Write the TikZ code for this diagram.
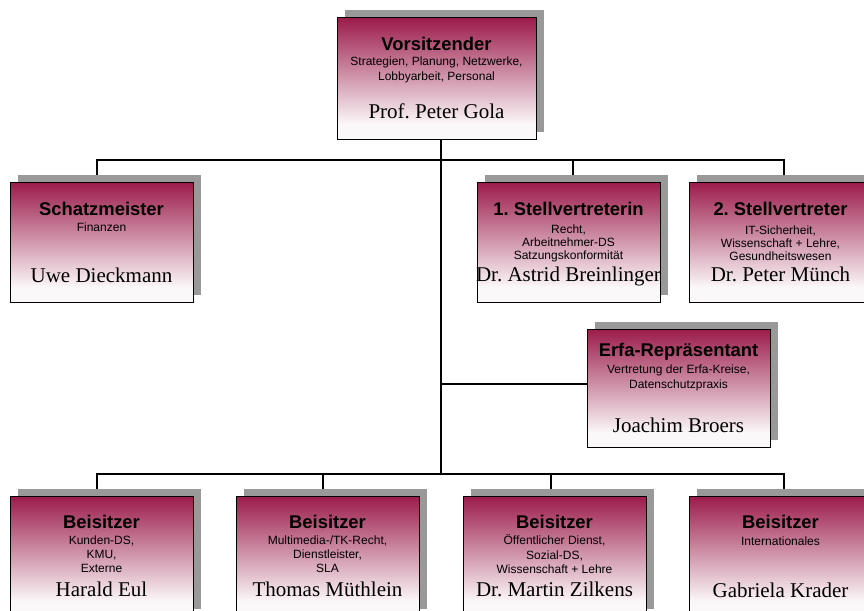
\documentclass[tikz,border=0pt]{standalone}
\usepackage{fontspec}
\setmainfont{Liberation Serif}
\setsansfont{Liberation Sans}
\usetikzlibrary{shadows,backgrounds}
\definecolor{boxtop}{RGB}{155,27,75}
\definecolor{boxlow}{RGB}{251,248,249}
\definecolor{shadowgray}{RGB}{153,153,153}
\pgfdeclareverticalshading{boxshade}{100bp}{color(0bp)=(boxlow); color(25bp)=(boxlow); color(31bp)=(boxlow); color(75bp)=(boxtop); color(100bp)=(boxtop)}
\tikzset{
  box/.style={draw=black, line width=0.9pt, shade, shading=boxshade,
    minimum width=183pt, minimum height=120pt, inner sep=0pt,
    general shadow={fill=shadowgray, shadow xshift=8pt, shadow yshift=7.5pt}},
  ttl/.style={font=\sffamily\bfseries\fontsize{18.4}{21}\selectfont, inner sep=0pt, anchor=base},
  dsc/.style={font=\sffamily\fontsize{12}{#1}\selectfont, align=center, inner sep=0pt},
  dsc/.default=14,
  nm/.style={font=\rmfamily\fontsize{21}{24}\selectfont, inner sep=0pt, anchor=base},
  conn/.style={draw=black, line width=1.4pt}
}
\frenchspacing
\begin{document}
\frenchspacing
\begin{tikzpicture}[x=1pt,y=-1pt]
\useasboundingbox (0,0) rectangle (864,610);
\clip (0,0) rectangle (864,610);

% boxes
\node[box, minimum width=199pt, minimum height=121.5pt] (v) at (436.5,78.25) {};
\node[box] (sm) at (101.5,242) {};
\node[box] (s1) at (568.5,242) {};
\node[box] (s2) at (780.5,242) {};
\node[box, minimum height=118pt] (er) at (678.5,388) {};
\node[box] (b1) at (101.5,556) {};
\node[box] (b2) at (327.5,556) {};
\node[box] (b3) at (554.5,556) {};
\node[box] (b4) at (780.5,556) {};

% texts: Vorsitzender
\node[ttl] (vt) at (436.5,50.5) {Vorsitzender};
\node[dsc=14.5] (vd) at (436.5,70) {Strategien, Planung, Netzwerke,\\Lobbyarbeit, Personal};
\node[nm] (vn) at (436.5,118.3) {Prof. Peter Gola};

% Schatzmeister
\node[ttl] (smt) at (101.5,215) {Schatzmeister};
\node[dsc] (smd) at (101.5,227.7) {Finanzen};
\node[nm] (smn) at (101.5,282.7) {Uwe Dieckmann};

% 1. Stellvertreterin
\node[ttl] (s1t) at (568.5,215) {1. Stellvertreterin};
\node[dsc=13] (s1d) at (568.5,243.5) {Recht,\\Arbeitnehmer-DS\\Satzungskonformität};
\node[nm] (s1n) at (568.5,281) {Dr. Astrid Breinlinger};

% 2. Stellvertreter
\node[ttl] (s2t) at (780.5,215) {2. Stellvertreter};
\node[dsc=13] (s2d) at (780.5,243.5) {IT-Sicherheit,\\Wissenschaft + Lehre,\\Gesundheitswesen};
\node[nm] (s2n) at (780.5,281) {Dr. Peter Münch};

% Erfa
\node[ttl] (ert) at (678.5,356.7) {Erfa-Repräsentant};
\node[dsc=15] (erd) at (678.5,377.5) {Vertretung der Erfa-Kreise,\\Datenschutzpraxis};
\node[nm] (ern) at (678.5,432) {Joachim Broers};

% Beisitzer
\node[ttl] (b1t) at (101.5,528.3) {Beisitzer};
\node[dsc=14.2] (b1d) at (101.5,554.2) {Kunden-DS,\\KMU,\\Externe};
\node[nm] (b1n) at (101.5,596) {Harald Eul};

\node[ttl] (b2t) at (327.5,528.3) {Beisitzer};
\node[dsc=14.2] (b2d) at (327.5,554.2) {Multimedia-/TK-Recht,\\Dienstleister,\\SLA};
\node[nm] (b2n) at (327.5,596) {Thomas Müthlein};

\node[ttl] (b3t) at (554.5,528.3) {Beisitzer};
\node[dsc=14.2] (b3d) at (554.5,554.2) {Öffentlicher Dienst,\\Sozial-DS,\\Wissenschaft + Lehre};
\node[nm] (b3n) at (554.5,596) {Dr. Martin Zilkens};

\node[ttl] (b4t) at (780.5,528.3) {Beisitzer};
\node[dsc] (b4d) at (780.5,541) {Internationales};
\node[nm] (b4n) at (780.5,597.3) {Gabriela Krader};

% connectors
\coordinate (sp) at (441,160);
\coordinate (jl1) at (97,160);
\coordinate (js1) at (573,160);
\coordinate (jr1) at (784,160);
\coordinate (je) at (441,384);
\coordinate (jl2) at (97,474);
\coordinate (jb2) at (323,474);
\coordinate (jb3) at (551,474);
\coordinate (jr2) at (784,474);
\begin{scope}[on background layer]
\draw[conn] (sp |- v.south) -- (sp |- jl2);
\draw[conn] (jl1 |- sm.north) -- (jl1) -- (jr1) -- (jr1 |- s2.north);
\draw[conn] (js1) -- (js1 |- s1.north);
\draw[conn] (je) -- (je -| er.west);
\draw[conn] (jl2 |- b1.north) -- (jl2) -- (jr2) -- (jr2 |- b4.north);
\draw[conn] (jb2) -- (jb2 |- b2.north);
\draw[conn] (jb3) -- (jb3 |- b3.north);
\end{scope}
\end{tikzpicture}
\end{document}
